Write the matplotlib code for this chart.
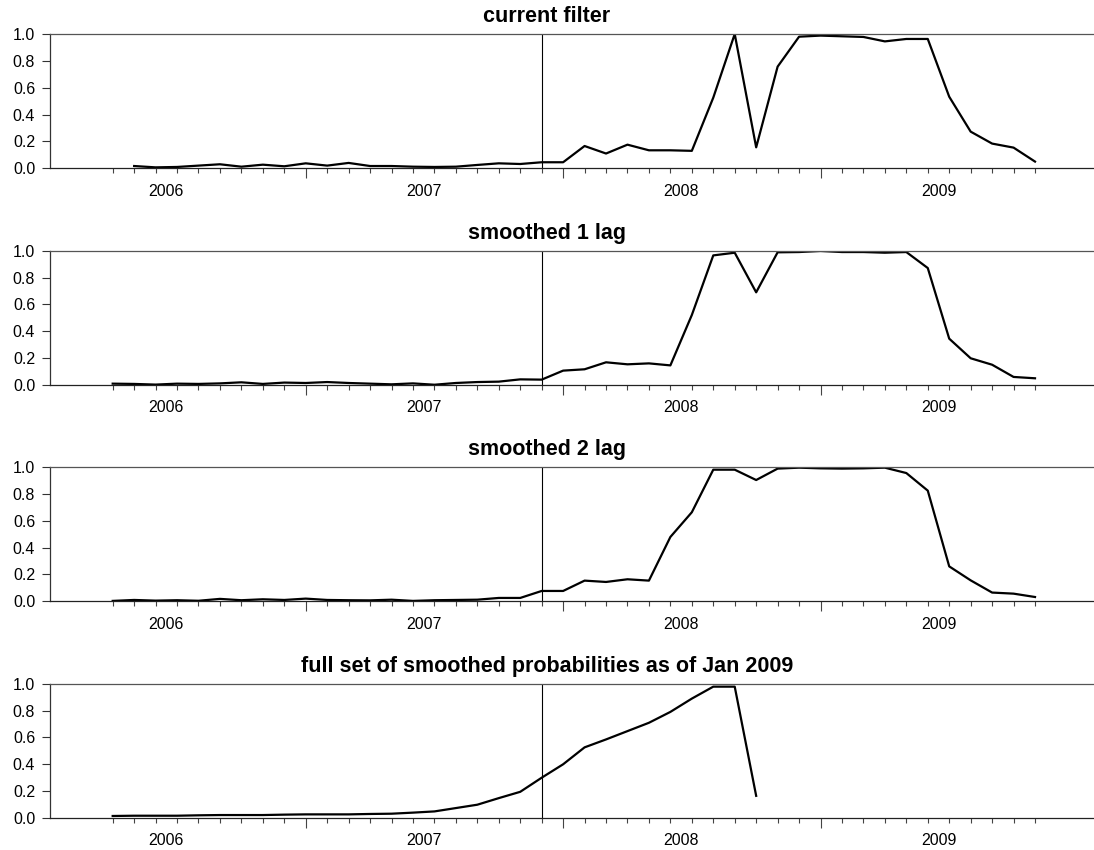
import matplotlib
matplotlib.use("Agg")
import matplotlib.pyplot as plt
import numpy as np

plt.rcParams['font.family'] = ['Liberation Sans', 'DejaVu Sans']

# month positions on the time axis (one tick per month)
months = np.arange(44)
long_ticks = [9, 21, 33]
year_pos = [2.5, 14.5, 26.5, 38.5]
year_labels = ["2006", "2007", "2008", "2009"]
cut_month = 20

# current filter starts one month later than the smoothed series
filter_months = months[1:]
current_filter = [0.017, 0.007, 0.010, 0.020, 0.030, 0.012, 0.027, 0.015, 0.037, 0.020,
                  0.040, 0.017, 0.017, 0.012, 0.010, 0.012, 0.025, 0.037, 0.032,
                  0.045, 0.045, 0.166, 0.110, 0.176, 0.134, 0.134, 0.130, 0.526, 1.000,
                  0.156, 0.757, 0.980, 0.988, 0.983, 0.978, 0.945, 0.963, 0.963, 0.533,
                  0.273, 0.184, 0.154, 0.050]

smoothed_1 = [0.010, 0.008, 0.003, 0.010, 0.008, 0.012, 0.020, 0.008, 0.018, 0.015,
              0.022, 0.015, 0.010, 0.005, 0.012, 0.002, 0.015, 0.022, 0.025,
              0.042, 0.040, 0.107, 0.117, 0.169, 0.154, 0.161, 0.146, 0.521, 0.965,
              0.985, 0.690, 0.988, 0.990, 0.998, 0.990, 0.990, 0.985, 0.990, 0.871,
              0.345, 0.199, 0.151, 0.060, 0.050]

smoothed_2 = [0.003, 0.010, 0.005, 0.008, 0.004, 0.018, 0.008, 0.015, 0.010, 0.020,
              0.010, 0.008, 0.007, 0.012, 0.003, 0.008, 0.010, 0.012, 0.025,
              0.025, 0.077, 0.077, 0.154, 0.144, 0.164, 0.154, 0.479, 0.663, 0.980,
              0.980, 0.903, 0.988, 0.995, 0.990, 0.988, 0.990, 0.995, 0.955, 0.824,
              0.260, 0.156, 0.065, 0.057, 0.032]

full_months = months[:31]
full_smoothed = [0.015, 0.017, 0.017, 0.017, 0.020, 0.022, 0.022, 0.022, 0.025, 0.027,
                 0.027, 0.027, 0.030, 0.032, 0.040, 0.049, 0.074, 0.099, 0.148, 0.195,
                 0.300, 0.400, 0.526, 0.585, 0.647, 0.709, 0.790, 0.889, 0.978, 0.978,
                 0.165]

titles = ["current filter", "smoothed 1 lag", "smoothed 2 lag",
          "full set of smoothed probabilities as of Jan 2009"]
series = [(filter_months, current_filter), (months, smoothed_1),
          (months, smoothed_2), (full_months, full_smoothed)]

W, H = 1094, 850
fig = plt.figure(figsize=(W / 100, H / 100), dpi=100)

# pixel positions of the y=0 line of each panel
bottoms_px = [168.3, 385.0, 601.3, 818.0]
height_px = 134.3
left_px = 49.5

for (xs, ys), title, b in zip(series, titles, bottoms_px):
    ax = fig.add_axes([left_px / W, 1 - b / H, 1 - left_px / W, height_px / H])
    ax.plot(xs, ys, color='black', lw=1.6)
    ax.axvline(cut_month, color='black', lw=0.8)

    ax.set_xlim(-2.946, 45.75)
    ax.set_ylim(0, 1)
    ax.set_yticks(np.arange(0, 1.01, 0.2))
    ax.set_yticklabels(["%.1f" % v for v in np.arange(0, 1.01, 0.2)])
    ax.tick_params(axis='y', length=5.8, width=0.8, color='#333333', pad=4.5,
                   labelsize=11.5)

    # long ticks at the year breaks, short ticks every month
    ax.set_xticks(long_ticks)
    ax.set_xticklabels([])
    ax.set_xticks(months, minor=True)
    ax.tick_params(axis='x', which='major', length=7, width=0.8, color='#444444')
    ax.tick_params(axis='x', which='minor', length=3.6, width=0.8, color='#444444')

    sec = ax.secondary_xaxis('bottom')
    sec.set_xticks(year_pos)
    sec.set_xticklabels(year_labels)
    sec.tick_params(length=0, pad=11, labelsize=11.5)
    sec.spines['bottom'].set_visible(False)

    ax.spines['right'].set_visible(False)
    ax.spines['top'].set_color('#555555')
    for s in ['left', 'bottom', 'top']:
        ax.spines[s].set_linewidth(0.9)
    ax.spines['left'].set_color('#333333')
    ax.spines['bottom'].set_color('#222222')

    top_px = b - height_px
    fig.text(0.5, 1 - (top_px - 12) / H, title, ha='center', va='baseline',
             fontsize=15.5, fontweight='bold')

fig.savefig("out.png", dpi=100)
